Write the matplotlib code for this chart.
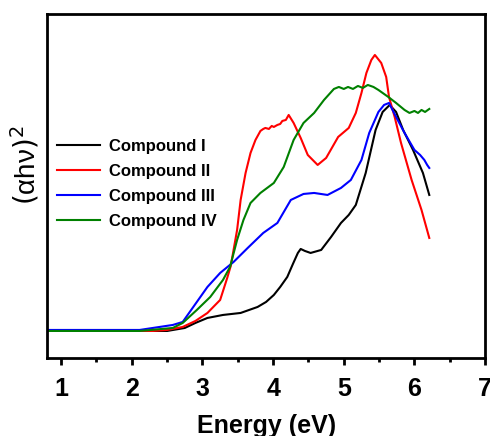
import matplotlib
matplotlib.use("Agg")
import matplotlib.pyplot as plt
from matplotlib.ticker import MultipleLocator

plt.rcParams['font.family'] = ['Liberation Sans', 'DejaVu Sans']

# Compound I (black)
x1 = [0.8, 2.5, 2.75, 2.9, 3.07, 3.29, 3.54, 3.78, 3.9, 4.01, 4.1, 4.2, 4.28, 4.35, 4.39, 4.45, 4.53, 4.68, 4.82, 4.96, 5.07, 5.17, 5.31, 5.45, 5.55, 5.65, 5.74, 5.84, 5.98, 6.12, 6.21]
y1 = [27, 27, 30, 35, 40, 43, 45, 51, 56, 63, 71, 81, 94, 105, 109, 107, 105, 108, 121, 135, 143, 153, 185, 228, 246, 253, 246, 228, 208, 185, 163]

# Compound II (red)
x2 = [0.8, 2.3, 2.5, 2.72, 2.9, 3.07, 3.25, 3.35, 3.40, 3.49, 3.54, 3.61, 3.68, 3.75, 3.82, 3.86, 3.89, 3.94, 3.98, 4.01, 4.06, 4.10, 4.13, 4.18, 4.22, 4.29, 4.39, 4.49, 4.63, 4.75, 4.92, 5.07, 5.17, 5.25, 5.32, 5.39, 5.44, 5.53, 5.60, 5.64, 5.72, 5.81, 5.96, 6.10, 6.21]
y2 = [27, 27, 28, 31, 37, 45, 58, 80, 92, 128, 158, 185, 205, 218, 227, 229, 230, 229, 232, 231, 233, 234, 237, 238, 243, 235, 220, 203, 193, 200, 221, 230, 245, 265, 285, 298, 303, 295, 281, 261, 241, 215, 178, 148, 120]

# Compound III (blue)
x3 = [0.8, 2.11, 2.58, 2.72, 2.87, 3.07, 3.25, 3.44, 3.64, 3.86, 4.06, 4.25, 4.43, 4.58, 4.77, 4.96, 5.10, 5.25, 5.36, 5.49, 5.57, 5.64, 5.74, 5.86, 6.0, 6.08, 6.14, 6.18, 6.21]
y3 = [28, 28, 33, 36, 51, 71, 85, 96, 110, 125, 135, 158, 164, 165, 163, 170, 178, 198, 225, 246, 253, 255, 241, 225, 208, 203, 198, 193, 190]

# Compound IV (green)
x4 = [0.8, 2.11, 2.58, 2.72, 2.92, 3.11, 3.29, 3.39, 3.49, 3.58, 3.68, 3.82, 4.01, 4.15, 4.29, 4.43, 4.58, 4.72, 4.86, 4.93, 5.0, 5.06, 5.13, 5.20, 5.27, 5.34, 5.42, 5.49, 5.63, 5.74, 5.86, 5.93, 6.0, 6.05, 6.10, 6.15, 6.21]
y4 = [27, 27, 30, 35, 48, 61, 78, 91, 118, 138, 155, 165, 175, 191, 218, 235, 245, 258, 269, 271, 269, 271, 269, 272, 270, 273, 271, 268, 261, 255, 248, 245, 247, 245, 248, 246, 249]

labels = ['Compound I', 'Compound II', 'Compound III', 'Compound IV']
colors = ['black', '#ff0000', '#0000ff', '#008000']

fig = plt.figure(figsize=(4.9, 4.36), dpi=100)
ax = fig.add_axes([0.096, 0.179, 0.894, 0.789])

for xs, ys, lab, c in zip([x1, x2, x3, x4], [y1, y2, y3, y4], labels, colors):
    ax.plot(xs, ys, color=c, lw=1.5, label=lab)

ax.set_xlim(0.8, 7)
ax.set_ylim(0, 344)
ax.xaxis.set_major_locator(MultipleLocator(1))
ax.xaxis.set_minor_locator(MultipleLocator(0.5))
ax.set_yticks([])
ax.tick_params(axis='x', which='major', direction='out', length=5, width=2, pad=9, labelsize=18)
ax.tick_params(axis='x', which='minor', direction='out', length=3, width=2)
for lbl in ax.get_xticklabels():
    lbl.set_fontweight('bold')
for s in ax.spines.values():
    s.set_linewidth(2)

ax.set_xlabel('Energy (eV)', fontsize=18, fontweight='bold', labelpad=9)
ax.set_ylabel(r'$(\mathregular{\alpha h\nu})^2$', fontsize=20)
ax.yaxis.set_label_coords(-0.012, 0.56)

leg = ax.legend(loc='upper left', bbox_to_anchor=(0.0, 0.665), frameon=False,
                prop={'weight': 'bold', 'size': 12}, handlelength=2.6,
                handletextpad=0.5, labelspacing=0.6, borderaxespad=0.2)

fig.savefig('out.png', dpi=100)
